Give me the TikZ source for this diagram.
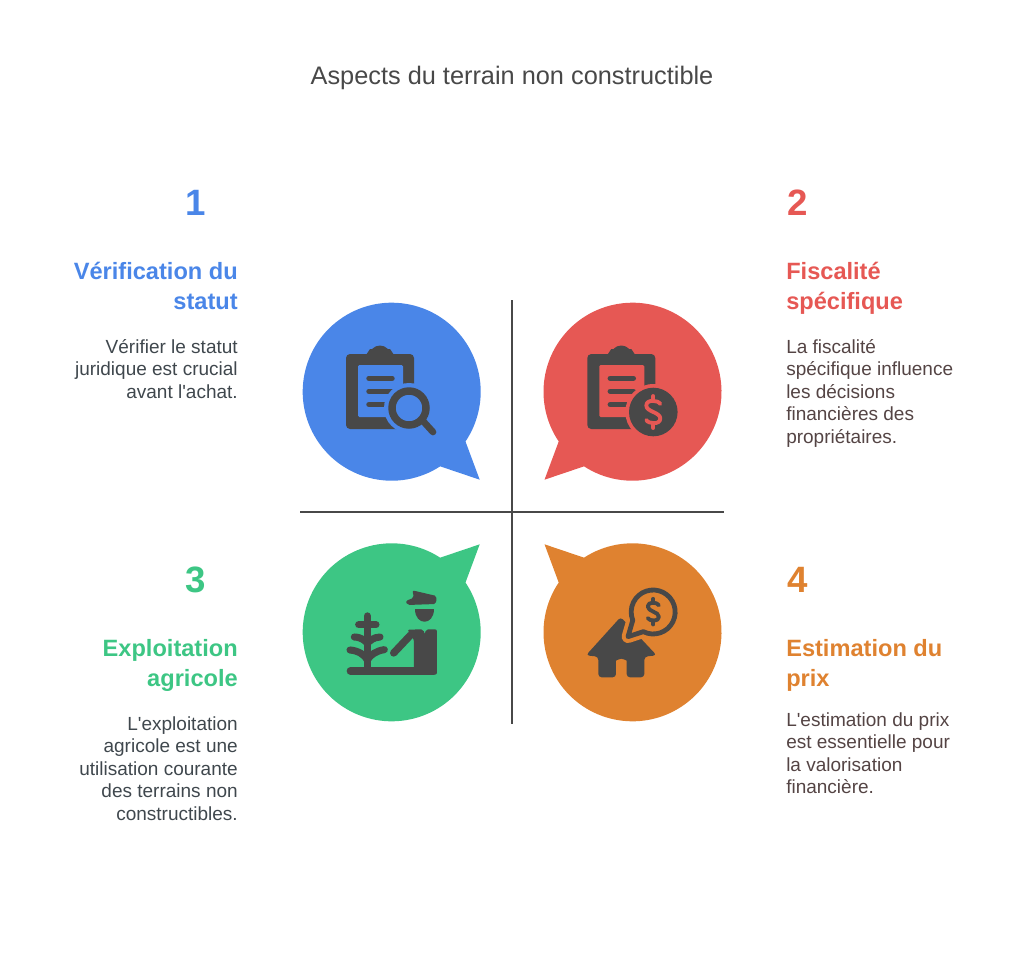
\documentclass[tikz,border=0pt]{standalone}
\usepackage{fontspec}
\setmainfont{Liberation Sans}[Ligatures=TeXOff]
\usetikzlibrary{calc}
\definecolor{bluec}{HTML}{4A86E8}
\definecolor{redc}{HTML}{E65854}
\definecolor{greenc}{HTML}{3DC684}
\definecolor{orangec}{HTML}{DF8230}
\definecolor{iconc}{HTML}{484848}
\definecolor{titlec}{HTML}{484848}
\definecolor{bodyl}{HTML}{3F474D}
\definecolor{bodyr}{HTML}{544444}
\tikzset{
	numtext/.style={font=\bfseries\fontsize{27.5}{32}\selectfont},
	headtext/.style={font=\bfseries\fontsize{17.7}{22.5}\selectfont,inner sep=0pt},
	bodytext/.style={font=\fontsize{14.25}{16.9}\selectfont,inner sep=0pt},
	iconline/.style={draw=iconc,line cap=round,line width=4.1pt}
}
% bubble: colour, centre x, centre y, flip x, flip y
\def\bubble[#1](#2,#3)(#4,#5){\fill[#1,shift={(#2,#3)},xscale=#4,yscale=#5] (57:89) arc (57:394:89) -- (88,88) -- cycle;}
% clipboard drawn at a given left edge
\def\clipboard[#1](#2){
	\begin{scope}[shift={(#2,0)}]
		\fill[iconc,rounded corners=3] (0,354) rectangle (68,429);
		\fill[iconc] (34,356) circle (10.5);
		\fill[iconc] (20,355) -- (24,349) -- (44,349) -- (48,355) -- cycle;
		\fill[#1,rounded corners=1] (12,365) rectangle (57,417);
		\draw[iconline] (23,378.3) -- (46,378.3);
		\draw[iconline] (23,391.3) -- (46,391.3);
		\draw[iconline] (23,404.6) -- (46,404.6);
	\end{scope}
}
% dollar sign round a centre
\def\dollarsign[#1](#2,#3)(#4){
	\begin{scope}[shift={(#2,#3)},scale=#4]
		\draw[#1,line cap=round,line join=round,line width=2.9pt] (7,-8) .. controls (5,-12) and (-7,-13) .. (-7,-6.5) .. controls (-7,0) and (7,0) .. (7,6.5) .. controls (7,13) and (-5,12) .. (-7,8);
		\draw[#1,line cap=round,line width=2.9pt] (0,-11) -- (0,-16);
		\draw[#1,line cap=round,line width=2.9pt] (0,11) -- (0,16);
	\end{scope}
}
\begin{document}
\begin{tikzpicture}[x=0.75pt,y=-0.75pt]
	\useasboundingbox (0,0) rectangle (1024,964);
	%%%%% TITLE %%%%%
	\node[font=\fontsize{19}{22}\selectfont,text=titlec] (title) at (512,78) {Aspects du terrain non constructible};

	%%%%% AXES %%%%%
	\coordinate (axistop) at (512,300);
	\coordinate (axisbot) at (512,724);
	\coordinate (axisleft) at (300,512);
	\coordinate (axisright) at (724,512);
	\draw[iconc,line width=1.5pt] (axistop) -- (axisbot);
	\draw[iconc,line width=1.5pt] (axisleft) -- (axisright);

	%%%%% BUBBLES %%%%%
	\bubble[bluec](391.7,391.7)(1,1)
	\bubble[redc](632.5,391.7)(-1,1)
	\bubble[greenc](391.7,632.3)(1,-1)
	\bubble[orangec](632.5,632.3)(-1,-1)

	%%%%% ICON 1 %%%%%
	\clipboard[bluec](346)
	\fill[bluec] (409,408) circle (25);
	\draw[iconc,line width=5.6pt] (409,408) circle (17);
	\draw[iconc,line cap=round,line width=5pt] (423,421) -- (433,432);

	%%%%% ICON 2 %%%%%
	\clipboard[redc](587.3)
	\fill[redc] (653.3,412) circle (28);
	\fill[iconc] (653.3,412) circle (24.3);
	\dollarsign[redc](653.3,412)(1)

	%%%%% ICON 3 %%%%%
	\begin{scope}[shift={(290,520)},scale=0.3333]
		\draw[iconc,line cap=round,line width=5.5pt] (181,453) -- (430,453);
		\fill[iconc,rounded corners=1.5] (352,329) -- (400,328) -- (404,344) -- (408,328) -- (441,328) -- (441,464) -- (372,464) -- (372,358) -- cycle;
		\draw[iconc,line cap=round,line width=5.5pt] (311,399) -- (362,345);
		\fill[iconc] (375,266) -- (431,266) .. controls (431,318) and (375,318) .. (375,266) -- cycle;
		\fill[iconc,rounded corners=1.5] (367,211) -- (440,228) -- (438,252) -- (352,255) -- (347,243) -- (372,233) -- cycle;
		\draw[iconc,line cap=round,line width=5.5pt] (232,288) -- (232,445);
		\draw[iconc,line cap=round,line width=5.3pt] (206,314) -- (258,314);
		\draw[iconc,line cap=round,line width=5.3pt] (193,351) .. controls (215,352) and (225,362) .. (232,370) .. controls (240,362) and (250,352) .. (270,351);
		\draw[iconc,line cap=round,line width=5.3pt] (180,390) .. controls (205,392) and (225,405) .. (232,420) .. controls (240,405) and (260,392) .. (283,389);
	\end{scope}

	%%%%% ICON 4 %%%%%
	\begin{scope}[shift={(530,520)},scale=0.3333]
		\fill[iconc,rounded corners=2.5] (272,291) -- (168,406) -- (205,410) -- (205,472) -- (258,472) -- (258,432) arc (180:360:16) -- (290,472) -- (343,472) -- (343,410) -- (380,406) -- cycle;
		\draw[orangec,fill=orangec,line width=9.5pt,line join=round] (340,335) arc (116.6:-202:66) -- (294,350) -- cycle;
		\draw[iconc,fill=orangec,line width=3.6pt,line join=round] (340,335) arc (116.6:-202:66) -- (294,350) -- cycle;
		\dollarsign[iconc](370,275)(2.4)
	\end{scope}

	%%%%% TEXT 1 %%%%%
	\node[numtext,text=bluec] (numa) at (196,203) {1};
	\node[headtext,text=bluec,anchor=north east,align=right] (heada) at (238,262) {Vérification du\\statut};
	\node[bodytext,text=bodyl,anchor=north east,align=right] (bodya) at (238,339) {Vérifier le statut\\juridique est crucial\\avant l'achat.};

	%%%%% TEXT 2 %%%%%
	\node[numtext,text=redc] (numb) at (798,203) {2};
	\node[headtext,text=redc,anchor=north west,align=left] (headb) at (786,262) {Fiscalité\\spécifique};
	\node[bodytext,text=bodyr,anchor=north west,align=left] (bodyb) at (786,339) {La fiscalité\\spécifique influence\\les décisions\\financières des\\propriétaires.};

	%%%%% TEXT 3 %%%%%
	\node[numtext,text=greenc] (numc) at (196,580) {3};
	\node[headtext,text=greenc,anchor=north east,align=right] (headc) at (238,639) {Exploitation\\agricole};
	\node[bodytext,text=bodyl,anchor=north east,align=right] (bodyc) at (238,716) {L'exploitation\\agricole est une\\utilisation courante\\des terrains non\\constructibles.};

	%%%%% TEXT 4 %%%%%
	\node[numtext,text=orangec] (numd) at (798,580) {4};
	\node[headtext,text=orangec,anchor=north west,align=left] (headd) at (786,639) {Estimation du\\prix};
	\node[bodytext,text=bodyr,anchor=north west,align=left] (bodyd) at (786,712) {L'estimation du prix\\est essentielle pour\\la valorisation\\financière.};
\end{tikzpicture}
\end{document}
